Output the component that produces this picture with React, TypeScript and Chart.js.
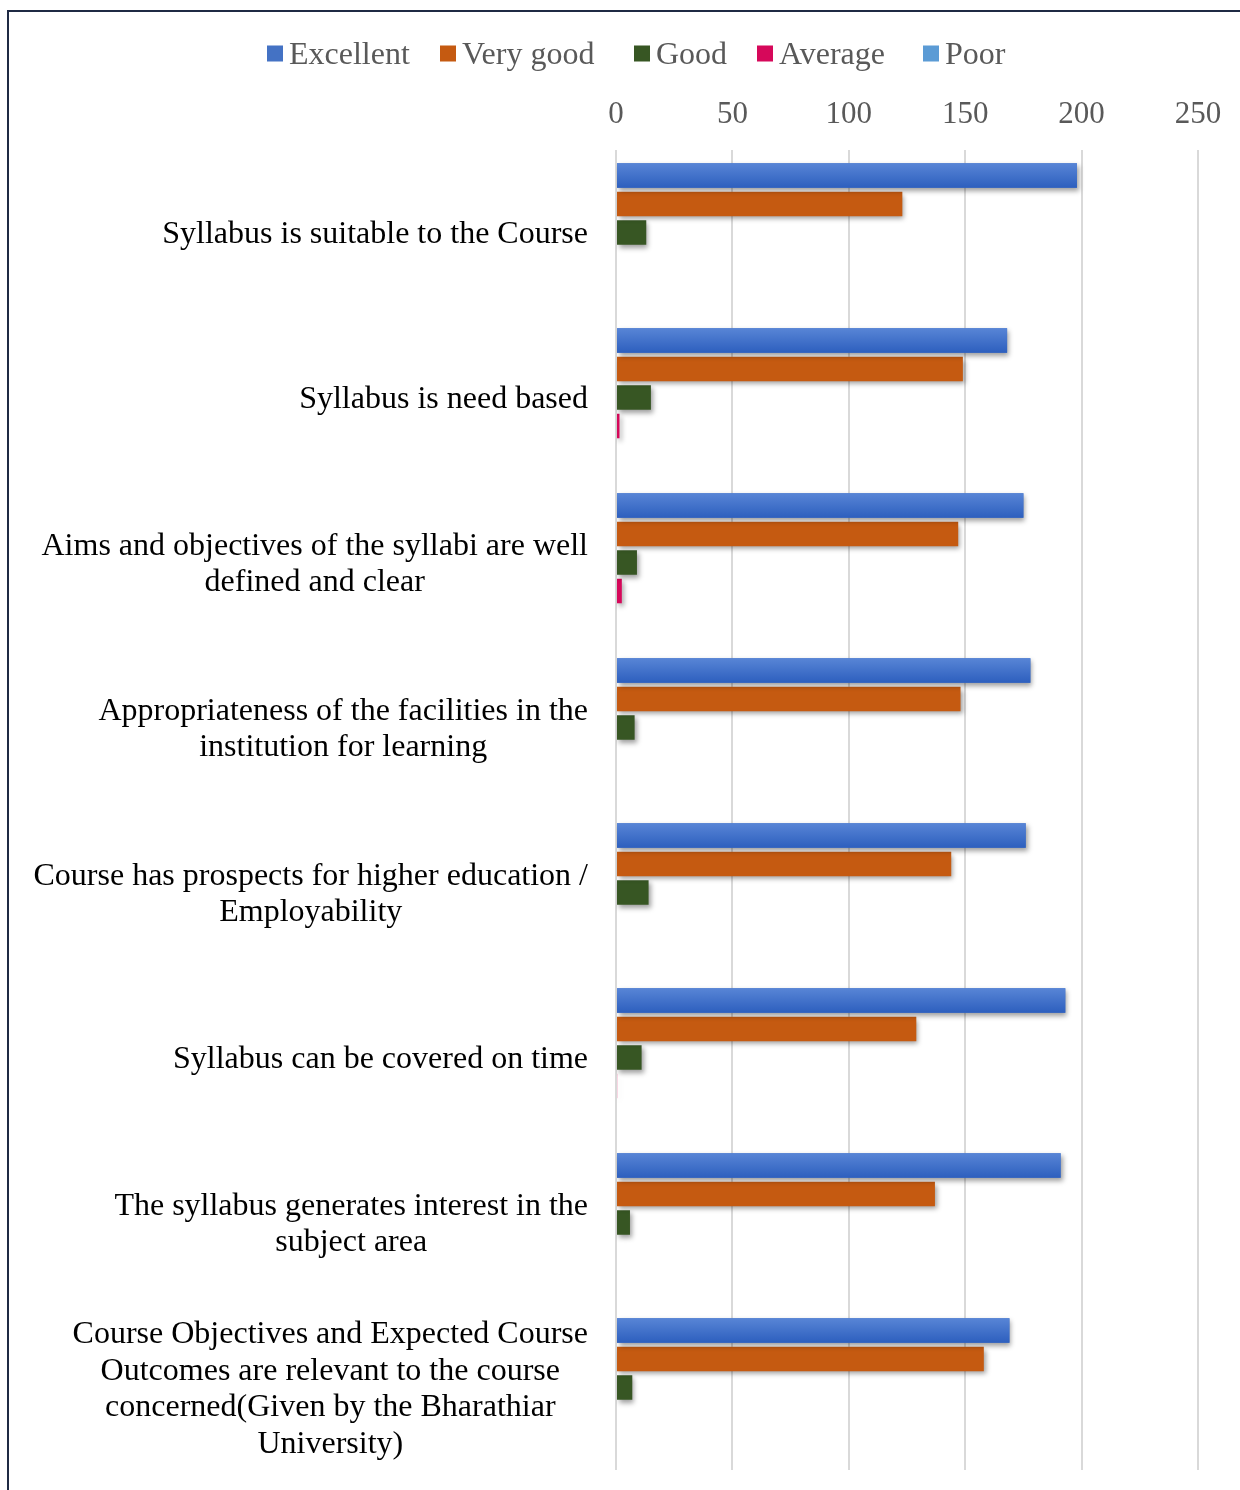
import React, { useEffect, useRef } from "react";
import { Chart, registerables } from "chart.js";

Chart.register(...registerables);

const categories: string[][] = [
  ["Syllabus is suitable to the Course"],
  ["Syllabus is need based"],
  ["Aims and objectives of the syllabi are well", "defined and clear"],
  ["Appropriateness of the facilities in the", "institution for learning"],
  ["Course has prospects for higher education /", "Employability"],
  ["Syllabus can be covered on time"],
  ["The syllabus generates interest in the", "subject area"],
  [
    "Course Objectives and Expected Course",
    "Outcomes are relevant to the course",
    "concerned(Given by the Bharathiar",
    "University)",
  ],
];

const seriesNames = ["Excellent", "Very good", "Good", "Average", "Poor"];
const excellent = [198, 168, 175, 178, 176, 193, 191, 169];
const veryGood = [123, 149, 147, 148, 144, 129, 137, 158];
const good = [13, 15, 9, 8, 14, 11, 6, 7];
const average = [0, 1.5, 2.5, 0, 0, 0.5, 0, 0];
const poor = [0, 0, 0, 0, 0, 0, 0, 0];
const xTickMin = 0;
const xTickMax = 250;
const xTickStep = 50;

const seriesColors = ["#4472C4", "#C55A11", "#375623", "#D6085A", "#5B9BD5"];
const legendSquareX = [267, 440, 634, 757, 923];
const FONT = "'Liberation Serif', 'Times New Roman', serif";

const customPlugin = {
  id: "custom",
  beforeDatasetsDraw(chart: any) {
    const ctx = chart.ctx;
    ctx.save();
    ctx.shadowColor = "rgba(0,0,0,0.38)";
    ctx.shadowBlur = 5;
    ctx.shadowOffsetX = 2;
    ctx.shadowOffsetY = 3;
  },
  afterDatasetsDraw(chart: any) {
    const ctx = chart.ctx;
    ctx.restore();
    const meta = chart.getDatasetMeta(0);
    ctx.save();
    meta.data.forEach((el: any) => {
      const p = el.getProps(["x", "y", "base", "height"], true);
      const top = p.y - p.height / 2;
      const g = ctx.createLinearGradient(0, top, 0, top + p.height);
      g.addColorStop(0, "#5885d6");
      g.addColorStop(1, "#2d5fbe");
      ctx.fillStyle = g;
      ctx.fillRect(Math.min(p.base, p.x), top, Math.abs(p.x - p.base), p.height);
    });
    ctx.restore();
  },
  afterDraw(chart: any) {
    const ctx = chart.ctx;
    const yScale = chart.scales.y;
    ctx.save();
    ctx.font = `32px ${FONT}`;
    ctx.fillStyle = "#000000";
    ctx.textAlign = "center";
    ctx.textBaseline = "middle";
    const right = 588;
    const lh = 36.5;
    categories.forEach((lines, i) => {
      const cy = yScale.getPixelForTick(i) + 2;
      const maxW = Math.max(...lines.map((l) => ctx.measureText(l).width));
      const cx = right - maxW / 2;
      const startY = cy - ((lines.length - 1) * lh) / 2;
      lines.forEach((l, j) => ctx.fillText(l, cx, startY + j * lh));
    });
    ctx.font = `32px ${FONT}`;
    ctx.textAlign = "left";
    ctx.textBaseline = "middle";
    const ly = 53.5;
    seriesNames.forEach((name, i) => {
      const x = legendSquareX[i];
      ctx.fillStyle = seriesColors[i];
      ctx.fillRect(x, ly - 8, 16, 16);
      ctx.fillStyle = "#595959";
      ctx.fillText(name, x + 22, ly + 2);
    });
    ctx.restore();
  },
};

export default function App() {
  const ref = useRef<HTMLCanvasElement | null>(null);
  useEffect(() => {
    if (!ref.current) return;
    const dataArrays = [excellent, veryGood, good, average, poor];
    const chart = new Chart(ref.current, {
      type: "bar",
      data: {
        labels: categories.map((c) => c.join(" ")),
        datasets: seriesNames.map((name, i) => ({
          label: name,
          data: dataArrays[i],
          backgroundColor: seriesColors[i],
          borderWidth: 0,
          categoryPercentage: 0.864,
          barPercentage: 0.86,
        })),
      },
      options: {
        indexAxis: "y",
        responsive: false,
        animation: false,
        layout: { padding: { top: 0, right: 42, bottom: 20, left: 0 } },
        plugins: {
          legend: { display: false },
          tooltip: { enabled: false },
        },
        scales: {
          x: {
            position: "top",
            min: xTickMin,
            max: xTickMax,
            ticks: {
              stepSize: xTickStep,
              color: "#595959",
              font: { family: FONT, size: 31 },
              padding: 17,
            },
            grid: { color: "#d9d9d9", lineWidth: 2, drawTicks: false },
            border: { display: false },
            afterFit: (s: any) => {
              s.height = 150;
            },
          },
          y: {
            ticks: { display: false },
            grid: { display: false },
            border: { display: false },
            afterFit: (s: any) => {
              s.width = 616;
            },
          },
        },
      } as any,
      plugins: [customPlugin],
    });
    return () => chart.destroy();
  }, []);

  return (
    <div style={{ position: "fixed", left: 0, top: 0, width: 1240, height: 1490, background: "#fff" }}>
      <canvas ref={ref} width={1240} height={1490} style={{ display: "block", width: 1240, height: 1490 }} />
      <div style={{ position: "absolute", left: 7, top: 10, width: 1233, height: 2, background: "#1f2a44" }} />
      <div style={{ position: "absolute", left: 7, top: 10, width: 2, height: 1480, background: "#1f2a44" }} />
    </div>
  );
}
